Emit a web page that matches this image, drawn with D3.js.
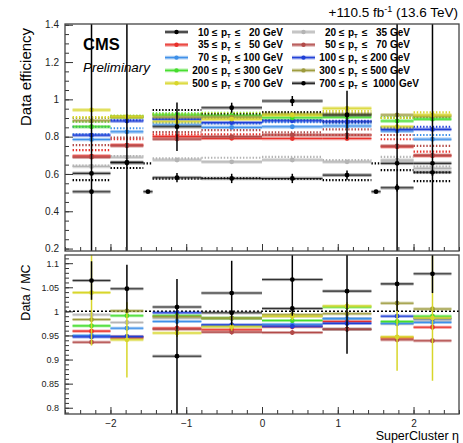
<!DOCTYPE html>
<html>
<head>
<meta charset="utf-8">
<script src="https://cdn.jsdelivr.net/npm/d3@7"></script>
<style>
  body { margin: 0; background: #fff; }
  text { font-family: "Liberation Sans", Arial, Helvetica, sans-serif; }
</style>
</head>
<body>
<svg></svg>
<script>
// pT bins of the legend
const ptLow  = [10, 20, 35, 50, 70, 100, 200, 300, 500, 700];
const ptHigh = [20, 35, 50, 70, 100, 200, 300, 500, 700, 1000];
const colors = ["#000000", "#b4b4b4", "#e8302a", "#b24a48", "#3d8fe8",
                "#1f3fd6", "#44dd2c", "#9c9a3c", "#d8d62a", "#000000"];

// SuperCluster eta bins
const etaBins = [[-2.5, -2.0], [-2.0, -1.566], [-1.444, -0.8], [-0.8, 0],
                 [0, 0.8], [0.8, 1.444], [1.566, 2.0], [2.0, 2.5]];
const gapBins = [[-1.566, -1.444], [1.444, 1.566]];

// data efficiency, one array per pT bin
const eff10  = [0.505, 0.660, 0.580, 0.576, 0.576, 0.594, 0.526, 0.609];
const eff20  = [0.640, 0.690, 0.675, 0.665, 0.675, 0.665, 0.674, 0.630];
const eff35  = [0.696, 0.755, 0.800, 0.791, 0.790, 0.790, 0.746, 0.698];
const eff50  = [0.690, 0.751, 0.787, 0.800, 0.809, 0.809, 0.750, 0.700];
const eff70  = [0.785, 0.826, 0.862, 0.850, 0.853, 0.857, 0.830, 0.786];
const eff100 = [0.808, 0.884, 0.894, 0.875, 0.885, 0.880, 0.839, 0.839];
const eff200 = [0.853, 0.905, 0.916, 0.912, 0.901, 0.905, 0.884, 0.894];
const eff300 = [0.885, 0.905, 0.905, 0.905, 0.920, 0.920, 0.916, 0.910];
const eff500 = [0.943, 0.907, 0.880, 0.894, 0.915, 0.952, 0.853, 0.916];
const eff700 = [0.603, 0.662, 0.853, 0.955, 0.991, 0.916, 0.657, 0.657];

// errors on the data efficiency
const effErr10  = [0.012, 0.015, 0.025, 0.025, 0.025, 0.025, 0.02, 0.02];
const effErr500 = [0.008, 0.008, 0.008, 0.008, 0.008, 0.008, 0.008, 0.008];
const effErr700 = [1.0, 1.0, 0.13, 0.027, 0.027, 0.13, 1.0, 1.0];
const effErrSmall = 0.006;

// MC efficiency (dotted lines)
const mc10  = [null, null, 0.575, 0.578, 0.573, 0.567, null, 0.562];
const mc20  = [0.645, 0.696, 0.684, 0.687, 0.692, 0.675, 0.692, 0.640];
const mc35  = [0.728, 0.786, 0.812, 0.812, 0.809, 0.809, 0.786, 0.720];
const mc50  = [0.755, 0.795, 0.825, 0.835, 0.823, 0.839, 0.809, 0.751];
const mc70  = [0.812, 0.845, 0.875, 0.871, 0.878, 0.872, 0.850, 0.809];
const mc100 = [0.853, 0.888, 0.897, 0.900, 0.889, 0.885, 0.848, 0.853];
const mc200 = [0.880, 0.912, 0.925, 0.927, 0.918, 0.920, 0.903, 0.903];
const mc300 = [0.900, 0.904, 0.918, 0.918, 0.930, 0.925, 0.900, 0.905];
const mc500 = [0.905, 0.912, 0.920, 0.925, 0.925, 0.937, 0.900, 0.930];
const mc700 = [0.567, 0.632, 0.943, 0.920, 0.930, 0.880, 0.621, 0.609];

// crack bins, only the lowest pT bin
const gapEff10 = [0.505, 0.505];
const gapMc10  = [0.657, 0.657];

// data / MC
const ratio10  = [null, null, 1.009, 0.997, 1.006, 0.963, null, null];
const ratio20  = [0.993, 0.977, 0.986, 0.985, 0.990, 0.985, 0.974, 0.980];
const ratio35  = [0.959, 0.947, 0.965, 0.962, 0.968, 0.979, 0.945, 0.967];
const ratio50  = [0.936, 0.945, 0.963, 0.957, 0.956, 0.963, 0.941, 0.939];
const ratio70  = [0.950, 0.965, 0.979, 0.970, 0.973, 0.985, 0.975, 0.977];
const ratio100 = [0.947, 0.948, 0.997, 0.972, 0.969, 0.975, 0.990, 0.985];
const ratio200 = [0.970, 0.991, 0.991, 0.986, 0.981, 1.009, 0.979, 0.990];
const ratio300 = [0.983, 1.001, 0.989, 0.986, 0.993, 0.995, 1.017, 1.005];
const ratio500 = [1.039, 0.941, 0.955, 0.968, 0.990, 1.011, 0.947, 0.986];
const ratio700 = [1.064, 1.047, 0.907, 1.038, 1.066, 1.042, 1.057, 1.078];

const ratioErr500 = [0.11, 0.078, 0.008, 0.008, 0.008, 0.008, 0.07, 0.13];
const ratioErr700 = [0.04, 0.05, 0.16, 0.067, 0.075, 0.13, 0.056, 0.04];
const ratioErrSmall = 0.005;

// axis ticks
const yTopTicks = [0.2, 0.4, 0.6, 0.8, 1.0, 1.2, 1.4];
const yBotTicks = [0.8, 0.85, 0.9, 0.95, 1.0, 1.05, 1.1];
const xTicks = [-2, -1, 0, 1, 2];

const effAll = [eff10, eff20, eff35, eff50, eff70, eff100, eff200, eff300, eff500, eff700];
const mcAll = [mc10, mc20, mc35, mc50, mc70, mc100, mc200, mc300, mc500, mc700];
const ratioAll = [ratio10, ratio20, ratio35, ratio50, ratio70, ratio100, ratio200, ratio300, ratio500, ratio700];
const effErrAll = effAll.map((s, i) => i === 0 ? effErr10 : i === 8 ? effErr500 : i === 9 ? effErr700 : s.map(() => effErrSmall));
const ratioErrAll = ratioAll.map((s, i) => i === 8 ? ratioErr500 : i === 9 ? ratioErr700 : s.map(() => ratioErrSmall));

const width = 463;
const height = 443;
const left = 65, right = 459;
const top1 = 24, bot1 = 251;
const top2 = 255, bot2 = 414;

const svg = d3.select("svg")
    .attr("width", width)
    .attr("height", height);

const x = d3.scaleLinear().domain([-2.6, 2.6]).range([left, right]);
const yTop = d3.scaleLinear().domain([0.187, 1.404]).range([bot1, top1]);
const yBot = d3.scaleLinear().domain([0.787, 1.117]).range([bot2, top2]);

const defs = svg.append("defs");
defs.append("clipPath").attr("id", "clipTop")
    .append("rect").attr("x", left).attr("y", top1).attr("width", right - left).attr("height", bot1 - top1);
defs.append("clipPath").attr("id", "clipBot")
    .append("rect").attr("x", left).attr("y", top2).attr("width", right - left).attr("height", bot2 - top2);

// one horizontal step with band, marker and error bar
function drawStep(g, y, x0, x1, v, e, color, bandH) {
    const xc = (x(x0) + x(x1)) / 2;
    g.append("rect")
        .attr("x", x(x0)).attr("width", x(x1) - x(x0))
        .attr("y", y(v) - bandH / 2).attr("height", bandH)
        .attr("fill", color === "#000000" ? "#555" : color)
        .attr("opacity", 0.5);
    g.append("line")
        .attr("x1", x(x0)).attr("x2", x(x1))
        .attr("y1", y(v)).attr("y2", y(v))
        .attr("stroke", color).attr("stroke-width", 1.1)
        .attr("opacity", color === "#000000" ? 0.7 : 1);
    g.append("line")
        .attr("x1", xc).attr("x2", xc)
        .attr("y1", y(v + e)).attr("y2", y(v - e))
        .attr("stroke", color).attr("stroke-width", 1.5);
    g.append("circle")
        .attr("cx", xc).attr("cy", y(v)).attr("r", 2.4)
        .attr("fill", color);
}

function drawDotted(g, y, x0, x1, v, color) {
    g.append("line")
        .attr("x1", x(x0)).attr("x2", x(x1))
        .attr("y1", y(v)).attr("y2", y(v))
        .attr("stroke", color)
        .attr("stroke-width", 2.2)
        .attr("stroke-dasharray", "1.4 1.8");
}

// ---- top panel ----
const gTop = svg.append("g").attr("clip-path", "url(#clipTop)");

mcAll.forEach((s, i) => {
    s.forEach((v, b) => {
        if (v != null) drawDotted(gTop, yTop, etaBins[b][0], etaBins[b][1], v, colors[i]);
    });
});
gapMc10.forEach((v, k) => drawDotted(gTop, yTop, gapBins[k][0], gapBins[k][1], v, colors[0]));

effAll.forEach((s, i) => {
    s.forEach((v, b) => {
        if (v != null) drawStep(gTop, yTop, etaBins[b][0], etaBins[b][1], v, effErrAll[i][b], colors[i], 3.5);
    });
});
gapEff10.forEach((v, k) => drawStep(gTop, yTop, gapBins[k][0], gapBins[k][1], v, 0.006, colors[0], 3.5));

// ---- bottom panel ----
const gBot = svg.append("g").attr("clip-path", "url(#clipBot)");

gBot.append("line")
    .attr("x1", left).attr("x2", right)
    .attr("y1", yBot(1)).attr("y2", yBot(1))
    .attr("stroke", "#000").attr("stroke-width", 1.5)
    .attr("stroke-dasharray", "2 2");

ratioAll.forEach((s, i) => {
    s.forEach((v, b) => {
        if (v != null) drawStep(gBot, yBot, etaBins[b][0], etaBins[b][1], v, ratioErrAll[i][b], colors[i], 3);
    });
});

// ---- axes ----
function styleAxis(g, size) {
    g.select(".domain").remove();
    g.selectAll(".tick line").attr("stroke", "#333");
    g.selectAll("text").attr("fill", "#222").style("font-size", size + "px");
}

// top panel y axis
svg.append("g").attr("transform", `translate(${left},0)`)
    .call(d3.axisLeft(yTop).tickValues(yTopTicks).tickSize(-8).tickPadding(6).tickFormat(d3.format("~g")))
    .call(g => styleAxis(g, 10));
svg.append("g").attr("transform", `translate(${left},0)`)
    .call(d3.axisLeft(yTop).tickValues(d3.range(0.2, 1.401, 0.05)).tickSize(-4).tickFormat(""))
    .call(g => styleAxis(g, 10));
svg.append("g").attr("transform", `translate(0,${bot1})`)
    .call(d3.axisBottom(x).tickValues(xTicks).tickSize(-7).tickFormat(""))
    .call(g => styleAxis(g, 10));
svg.append("g").attr("transform", `translate(0,${bot1})`)
    .call(d3.axisBottom(x).tickValues(d3.range(-2.6, 2.61, 0.2)).tickSize(-4).tickFormat(""))
    .call(g => styleAxis(g, 10));

// bottom panel y axis
svg.append("g").attr("transform", `translate(${left},0)`)
    .call(d3.axisLeft(yBot).tickValues(yBotTicks).tickSize(-8).tickPadding(6).tickFormat(d3.format("~g")))
    .call(g => styleAxis(g, 9));
svg.append("g").attr("transform", `translate(${left},0)`)
    .call(d3.axisLeft(yBot).tickValues(d3.range(0.79, 1.115, 0.01)).tickSize(-4).tickFormat(""))
    .call(g => styleAxis(g, 9));
svg.append("g").attr("transform", `translate(0,${bot2})`)
    .call(d3.axisBottom(x).tickValues(xTicks).tickSize(-7).tickPadding(6).tickFormat(d3.format("~g")))
    .call(g => styleAxis(g, 10));
svg.append("g").attr("transform", `translate(0,${bot2})`)
    .call(d3.axisBottom(x).tickValues(d3.range(-2.6, 2.61, 0.2)).tickSize(-4).tickFormat(""))
    .call(g => styleAxis(g, 10));

// frames
[[top1, bot1], [top2, bot2]].forEach(([t, b]) => {
    svg.append("rect")
        .attr("x", left).attr("y", t)
        .attr("width", right - left).attr("height", b - t)
        .attr("fill", "none").attr("stroke", "#444").attr("stroke-width", 1.3);
});

// ---- titles ----
svg.append("text")
    .attr("transform", `translate(31,${(top1 + 130) / 2}) rotate(-90)`)
    .attr("text-anchor", "middle")
    .style("font-size", "15px")
    .text("Data efficiency");

svg.append("text")
    .attr("transform", `translate(30,${(top2 + 330) / 2}) rotate(-90)`)
    .attr("text-anchor", "middle")
    .style("font-size", "12.5px")
    .text("Data / MC");

svg.append("text")
    .attr("x", right).attr("y", 440)
    .attr("text-anchor", "end")
    .style("font-size", "12.5px")
    .text("SuperCluster η");

const lumi = svg.append("text")
    .attr("x", right - 1).attr("y", 17)
    .attr("text-anchor", "end")
    .style("font-size", "13.5px");
lumi.append("tspan").text("+110.5 fb");
lumi.append("tspan").attr("dy", -5).style("font-size", "9px").text("-1");
lumi.append("tspan").attr("dy", 5).text(" (13.6 TeV)");

svg.append("text")
    .attr("x", 83).attr("y", 50)
    .style("font-size", "16.5px").style("font-weight", "bold")
    .text("CMS");
svg.append("text")
    .attr("x", 83).attr("y", 72)
    .style("font-size", "13.4px").style("font-style", "italic")
    .text("Preliminary");

// ---- legend ----
const legend = svg.append("g");
ptLow.forEach((lo, i) => {
    const cx = 165 + (i % 2) * 127;
    const cy = 32 + Math.floor(i / 2) * 12.8;
    const col = colors[i];
    legend.append("rect")
        .attr("x", cx).attr("y", cy - 1.8).attr("width", 23).attr("height", 3.6)
        .attr("fill", col === "#000000" ? "#555" : col).attr("opacity", 0.5);
    legend.append("line")
        .attr("x1", cx).attr("x2", cx + 23).attr("y1", cy).attr("y2", cy)
        .attr("stroke", col).attr("stroke-width", 1.1);
    legend.append("circle").attr("cx", cx + 11.5).attr("cy", cy).attr("r", 2.2).attr("fill", col);

    const base = cy + 3.6;
    const t = (xx, s, anchor) => legend.append("text")
        .attr("x", xx).attr("y", base)
        .attr("text-anchor", anchor || "start")
        .style("font-size", "10px").style("font-weight", "bold")
        .text(s);
    t(cx + 44, lo, "end");
    t(cx + 47, "≤");
    t(cx + 56, "p");
    legend.append("text")
        .attr("x", cx + 62).attr("y", base + 2.5)
        .style("font-size", "6px").style("font-weight", "bold")
        .text("T");
    t(cx + 70, "≤");
    if (String(ptHigh[i]).length > 3) {
        t(cx + 81, ptHigh[i]);
        t(cx + 107, "GeV");
    } else {
        t(cx + 95, ptHigh[i], "end");
        t(cx + 98, "GeV");
    }
});
</script>
</body>
</html>
